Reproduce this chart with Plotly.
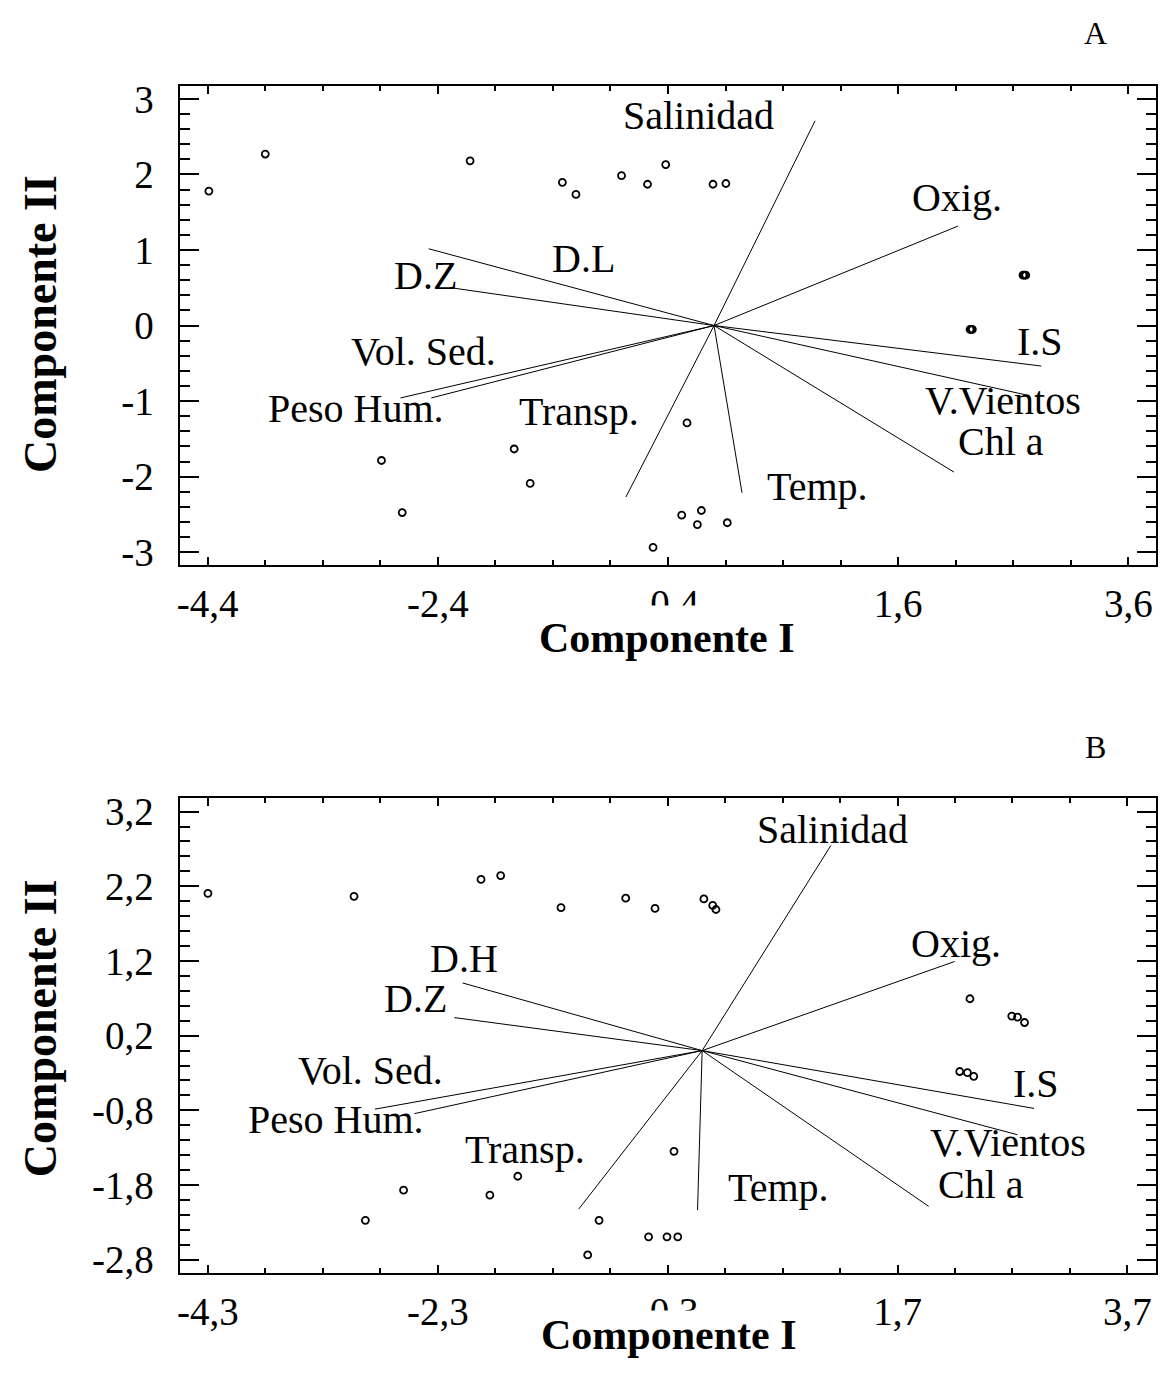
import plotly.graph_objects as go

# ---------------- Panel A: sample scores ----------------
score_a_x = [-4.39, -3.90, -2.12, -1.318, -1.20, -0.804, -0.578, -0.42, -0.009, 0.103,
             2.685, 2.697, 2.709, 2.225, 2.235, 2.245,
             -2.89, -2.71, -1.737, -1.598, -0.235, -0.281, -0.11, -0.145, 0.115, -0.53]
score_a_y = [1.78, 2.27, 2.18, 1.895, 1.735, 1.983, 1.87, 2.13, 1.87, 1.88,
             0.667, 0.667, 0.667, -0.05, -0.05, -0.05,
             -1.786, -2.475, -1.634, -2.09, -1.289, -2.51, -2.448, -2.635, -2.61, -2.936]

# Panel A: variable loadings (vector tips)
vars_a = ["Salinidad", "Oxig.", "D.L", "D.Z", "Vol. Sed.", "Peso Hum.",
          "Transp.", "Temp.", "Chl a", "V.Vientos", "I.S"]
load_a_x = [0.878, 2.12, -2.48, -2.253, -2.457, -2.725, -0.766, 0.243, 2.085, 2.74, 2.844]
load_a_y = [2.71, 1.316, 1.016, 0.493, -0.958, -0.958, -2.27, -2.213, -1.94, -0.928, -0.536]

# ---------------- Panel B: sample scores ----------------
score_b_x = [-4.3, -3.029, -1.924, -1.753, -1.228, -0.665, -0.41, 0.015, 0.092, 0.12,
             2.33, 2.694, 2.744, 2.805, 2.241, 2.308, 2.363,
             -0.245, -1.604, -2.598, -1.847, -2.93, -0.897, -0.466, -0.306, -0.212, -0.996]
score_b_y = [2.106, 2.065, 2.292, 2.343, 1.914, 2.04, 1.904, 2.03, 1.944, 1.889,
             0.694, 0.462, 0.447, 0.376, -0.28, -0.295, -0.345,
             -1.349, -1.682, -1.868, -1.934, -2.272, -2.272, -2.493, -2.493, -2.493, -2.736]

# Panel B: variable loadings (vector tips)
vars_b = ["Salinidad", "Oxig.", "D.H", "D.Z", "Vol. Sed.", "Peso Hum.",
          "Transp.", "Temp.", "Chl a", "V.Vientos", "I.S"]
load_b_x = [1.120, 2.197, -2.085, -2.156, -2.847, -2.504, -1.073, -0.04, 1.971, 2.744, 2.888]
load_b_y = [2.746, 1.193, 0.906, 0.442, -0.784, -0.844, -2.12, -2.135, -2.085, -1.127, -0.774]

# Axis tick labels (decimal comma)
xa_ticks = [-4.4, -2.4, -0.4, 1.6, 3.6]
xa_text = ["-4,4", "-2,4", "-0,4", "1,6", "3,6"]
ya_ticks = [3, 2, 1, 0, -1, -2, -3]
ya_text = ["3", "2", "1", "0", "-1", "-2", "-3"]
xb_ticks = [-4.3, -2.3, -0.3, 1.7, 3.7]
xb_text = ["-4,3", "-2,3", "-0,3", "1,7", "3,7"]
yb_ticks = [3.2, 2.2, 1.2, 0.2, -0.8, -1.8, -2.8]
yb_text = ["3,2", "2,2", "1,2", "0,2", "-0,8", "-1,8", "-2,8"]

# Label placement for each variable name (data units)
lab_a = {"Salinidad": (-0.132, 2.728), "Oxig.": (2.114, 1.643), "D.L": (-1.136, 0.839),
         "D.Z": (-2.511, 0.611), "Vol. Sed.": (-2.522, -0.392), "Peso Hum.": (-3.109, -1.154),
         "Transp.": (-1.176, -1.193), "Temp.": (0.899, -2.187), "I.S": (2.833, -0.261),
         "V.Vientos": (2.511, -1.045), "Chl a": (2.496, -1.59)}
lab_b = {"Salinidad": (1.132, 2.9), "Oxig.": (2.207, 1.378), "D.H": (-2.075, 1.182),
         "D.Z": (-2.496, 0.64), "Vol. Sed.": (-2.882, -0.316), "Peso Hum.": (-3.186, -0.974),
         "Transp.": (-1.541, -1.375), "Temp.": (0.668, -1.886), "I.S": (2.907, -0.489),
         "V.Vientos": (2.664, -1.28), "Chl a": (2.428, -1.84)}

W, H = 1165, 1378
SERIF = "Liberation Serif"


def px_x(p):
    return p / W


def px_y(p):
    return 1 - p / H


def vector_segments(xs, ys):
    lx, ly = [], []
    for x, y in zip(xs, ys):
        lx += [0, x, None]
        ly += [0, y, None]
    return lx, ly


fig = go.Figure()

for (sx, sy, lxs, lys, xa, ya) in [
    (score_a_x, score_a_y, load_a_x, load_a_y, "x", "y"),
    (score_b_x, score_b_y, load_b_x, load_b_y, "x2", "y2"),
]:
    vx, vy = vector_segments(lxs, lys)
    fig.add_trace(go.Scatter(x=vx, y=vy, mode="lines", xaxis=xa, yaxis=ya,
                             line=dict(color="black", width=1), hoverinfo="skip"))
    fig.add_trace(go.Scatter(x=sx, y=sy, mode="markers", xaxis=xa, yaxis=ya,
                             marker=dict(symbol="circle-open", size=7, color="black",
                                         line=dict(width=1.8, color="black"))))

axis_common = dict(showline=True, linecolor="black", linewidth=2, mirror="ticks",
                   ticks="inside", tickcolor="black", tickwidth=2, showgrid=False,
                   zeroline=False, tickmode="array",
                   tickfont=dict(family=SERIF, size=39, color="black"))

xdom = [px_x(177), px_x(1156)]

fig.update_layout(
    width=W, height=H, margin=dict(l=0, r=0, t=0, b=0),
    paper_bgcolor="white", plot_bgcolor="white", showlegend=False,
    xaxis=dict(axis_common, domain=xdom, range=[-4.645, 3.841], anchor="y",
               tickvals=xa_ticks, ticktext=xa_text, ticklen=8, ticklabelstandoff=3,
               minor=dict(tick0=-4.4, dtick=0.5, ticklen=5, tickwidth=1.5,
                          tickcolor="black", ticks="inside")),
    yaxis=dict(axis_common, domain=[px_y(564), px_y(79)], range=[-3.17, 3.17], anchor="x",
               tickvals=ya_ticks, ticktext=ya_text, ticklen=19, ticklabelstandoff=16,
               minor=dict(tick0=0, dtick=0.2, ticklen=10, tickwidth=1.5,
                          tickcolor="black", ticks="inside")),
    xaxis2=dict(axis_common, domain=xdom, range=[-4.547, 3.949], anchor="y2",
                tickvals=xb_ticks, ticktext=xb_text, ticklen=8, ticklabelstandoff=3,
                minor=dict(tick0=-4.3, dtick=0.5, ticklen=5, tickwidth=1.5,
                           tickcolor="black", ticks="inside")),
    yaxis2=dict(axis_common, domain=[px_y(1281), px_y(800)], range=[-2.98, 3.38], anchor="x2",
                tickvals=yb_ticks, ticktext=yb_text, ticklen=19, ticklabelstandoff=16,
                minor=dict(tick0=0.2, dtick=0.2, ticklen=10, tickwidth=1.5,
                           tickcolor="black", ticks="inside")),
)

annotations = []
for labs, xr, yr in [(lab_a, "x", "y"), (lab_b, "x2", "y2")]:
    for name, (lx, ly) in labs.items():
        annotations.append(dict(text=name, x=lx, y=ly, xref=xr, yref=yr, showarrow=False,
                                xanchor="center", yanchor="middle", yshift=4,
                                font=dict(family=SERIF, size=40, color="black")))

# Axis titles (white box sits over the lower half of the central tick label)
for cx, cy, pad in [(666, 638, 9), (668, 1344, 1)]:
    annotations.append(dict(text="<b>Componente I</b>", x=px_x(cx), y=px_y(cy),
                            xref="paper", yref="paper", showarrow=False,
                            xanchor="center", yanchor="middle", bgcolor="white",
                            borderpad=pad,
                            font=dict(family=SERIF, size=42, color="black")))
for cx, cy in [(37, 320), (37, 1033)]:
    annotations.append(dict(text="<b>Componente II</b>", x=px_x(cx), y=px_y(cy),
                            xref="paper", yref="paper", showarrow=False, textangle=-90,
                            xanchor="center", yanchor="middle",
                            font=dict(family=SERIF, size=46, color="black")))

# Panel letters
for letter, cy in [("A", 25), ("B", 748)]:
    annotations.append(dict(text=letter, x=px_x(1095), y=px_y(cy), xref="paper", yref="paper",
                            showarrow=False, xanchor="center", yanchor="middle",
                            font=dict(family=SERIF, size=32, color="black")))

fig.update_layout(annotations=annotations)
fig.write_html("out.html")
